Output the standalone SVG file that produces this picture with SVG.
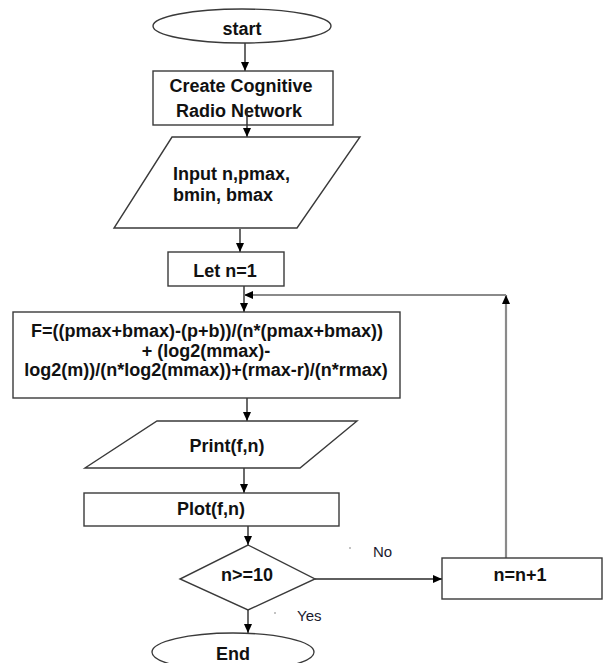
<svg xmlns="http://www.w3.org/2000/svg" width="604" height="663" viewBox="0 0 604 663">
  <style>
    .shape { fill: #ffffff; stroke: #3a3a3a; stroke-width: 1.4; }
    .lbl { font-family: "Liberation Sans", Arial, sans-serif; font-size: 18px; font-weight: bold; fill: #111111; }
    .mid { text-anchor: middle; }
    .note { font-family: "Liberation Sans", Arial, sans-serif; font-size: 15px; fill: #1a1a2e; }
    .flow { fill: none; stroke: #2a2a2a; stroke-width: 1.4; }
    .loop { fill: none; stroke: #8a8a8a; stroke-width: 2.2; }
  </style>
  <defs>
    <marker id="arrow" markerUnits="userSpaceOnUse" markerWidth="10" markerHeight="10" refX="9" refY="5" orient="auto">
      <path d="M0,1 L9,5 L0,9 Z" fill="#000000"/>
    </marker>
  </defs>

  <rect width="604" height="663" fill="#ffffff"/>

  <!-- connectors -->
  <g id="connectors">
    <line class="flow" x1="245" y1="43" x2="245" y2="71" marker-end="url(#arrow)"/>
    <line class="flow" x1="247" y1="109" x2="247" y2="137" marker-end="url(#arrow)"/>
    <line class="flow" x1="240" y1="229" x2="240" y2="252" marker-end="url(#arrow)"/>
    <line class="flow" x1="244" y1="286" x2="244" y2="312" marker-end="url(#arrow)"/>
    <line class="flow" x1="247" y1="398" x2="247" y2="421" marker-end="url(#arrow)"/>
    <line class="flow" x1="244" y1="468" x2="244" y2="493" marker-end="url(#arrow)"/>
    <line class="flow" x1="248" y1="526" x2="248" y2="545" marker-end="url(#arrow)"/>
    <line class="flow" x1="315" y1="579" x2="442" y2="579" marker-end="url(#arrow)"/>
    <line class="flow" x1="248" y1="610" x2="248" y2="633" marker-end="url(#arrow)"/>
    <!-- loop back from n=n+1 to the formula -->
    <line class="loop" x1="506" y1="558" x2="506" y2="295" marker-end="url(#arrow)"/>
    <line class="loop" x1="506" y1="295" x2="244" y2="295" marker-end="url(#arrow)"/>
  </g>

  <g id="node-start">
    <ellipse class="shape" cx="242" cy="26" rx="89" ry="17"/>
    <text class="lbl mid" x="242" y="35">start</text>
  </g>

  <g id="node-create">
    <rect class="shape" x="153" y="71" width="180" height="54"/>
    <text class="lbl mid" x="241" y="92">Create Cognitive</text>
    <text class="lbl mid" x="239" y="117">Radio Network</text>
    <line class="flow" x1="247" y1="109" x2="247" y2="125"/>
  </g>

  <g id="node-input">
    <polygon class="shape" points="172,137 360,137 297,228 114,228"/>
    <text class="lbl" x="173" y="180">Input n,pmax,</text>
    <text class="lbl" x="173" y="201">bmin, bmax</text>
  </g>

  <g id="node-let">
    <rect class="shape" x="168" y="252" width="116" height="34"/>
    <text class="lbl mid" x="225" y="277">Let n=1</text>
  </g>

  <g id="node-formula">
    <rect class="shape" x="13" y="312" width="387" height="86"/>
    <text class="lbl mid" x="207" y="337">F=((pmax+bmax)-(p+b))/(n*(pmax+bmax))</text>
    <text class="lbl mid" x="206" y="357">+ (log2(mmax)-</text>
    <text class="lbl mid" x="206" y="376">log2(m))/(n*log2(mmax))+(rmax-r)/(n*rmax)</text>
  </g>

  <g id="node-print">
    <polygon class="shape" points="157,421 357,421 300,468 85,468"/>
    <text class="lbl mid" x="227" y="452">Print(f,n)</text>
  </g>

  <g id="node-plot">
    <rect class="shape" x="84" y="493" width="255" height="33"/>
    <text class="lbl mid" x="211" y="515">Plot(f,n)</text>
  </g>

  <g id="node-decision">
    <polygon class="shape" points="248,545 315,579 248,610 180,579"/>
    <text class="lbl mid" x="247" y="581">n&gt;=10</text>
  </g>

  <g id="node-increment">
    <rect class="shape" x="442" y="558" width="160" height="41"/>
    <text class="lbl mid" x="520" y="581">n=n+1</text>
  </g>

  <g id="node-end">
    <ellipse class="shape" cx="233" cy="652" rx="81" ry="19"/>
    <text class="lbl mid" x="233" y="660">End</text>
  </g>

  <!-- branch labels -->
  <g id="labels">
    <circle cx="350" cy="548" r="0.8" fill="#777777"/>
    <text class="note" x="373" y="557">No</text>
    <circle cx="275" cy="613" r="0.8" fill="#777777"/>
    <text class="note" x="297" y="621">Yes</text>
  </g>
</svg>
